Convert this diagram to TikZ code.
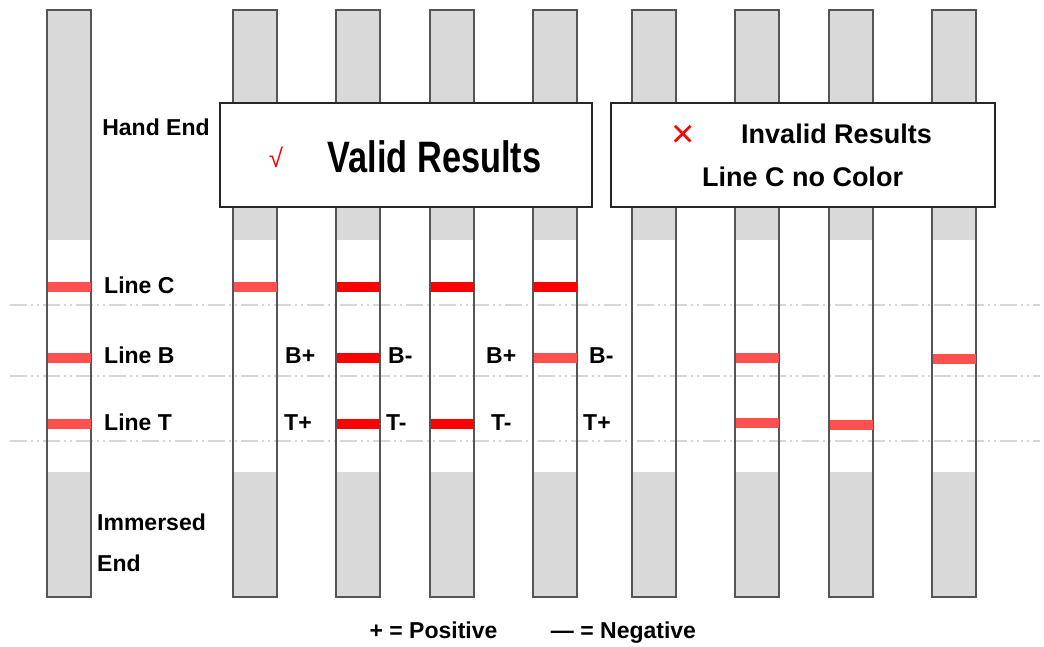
\documentclass[tikz,border=0pt]{standalone}
\usepackage{fontspec}
\setmainfont{Liberation Sans}
\usepackage{graphicx}
\usetikzlibrary{positioning}
\definecolor{stripgray}{HTML}{D9D9D9}
\definecolor{stripedge}{HTML}{555555}
\definecolor{lightred}{HTML}{FF5050}
\definecolor{fullred}{HTML}{FF0000}
\definecolor{guidegray}{HTML}{D6D6D6}
\def\stripwidth{44pt}

\begin{document}
\begin{tikzpicture}[x=1pt,y=-1pt,font=\bfseries]
    \tikzstyle{strip}=[rectangle,draw=stripedge,line width=2.2pt,minimum width=\stripwidth,minimum height=587pt,inner sep=0pt,
        path picture={\fill[stripgray] (path picture bounding box.north west) rectangle ++(44pt,-230pt);
                      \fill[stripgray] (path picture bounding box.south west) rectangle ++(44pt,125pt);}]
    \tikzstyle{band}=[rectangle,minimum width=43pt,minimum height=10pt,inner sep=0pt]
    \tikzstyle{guide}=[guidegray,line width=1.5pt,dash pattern=on 17pt off 4pt on 2pt off 4pt on 2pt off 4pt]
    \tikzstyle{tag}=[font=\fontsize{23}{23}\selectfont\bfseries,inner sep=0pt]
    \tikzstyle{result box}=[rectangle,draw=black!85,line width=1.5pt,fill=white,minimum height=104pt]
    \useasboundingbox (0,0) rectangle (1044,646);

    % guide lines behind the strips
    \foreach \name/\y in {C/305,B/376,T/441} {
        \coordinate (G-\name-a) at (10,\y);
        \coordinate (G-\name-b) at (1040,\y);
        \draw[guide] (G-\name-a) -- (G-\name-b);
    }

    \foreach \name/\x in {0/47,1/233,2/336,3/430,4/533,5/632,6/735,7/829,8/932}
        \node[strip] (S-\name) at (\x+22,303.5) {};

    \foreach \s/\y/\c in {0/287/lightred,0/358/lightred,0/424/lightred,
                          1/287/lightred,
                          2/287/fullred,2/358/fullred,2/424/fullred,
                          3/287/fullred,3/424/fullred,
                          4/287/fullred,4/358/lightred,
                          6/358/lightred,6/423/lightred,
                          7/425/lightred,
                          8/359/lightred}
        \node[band,fill=\c] (band-\s-\y) at (S-\s |- 0,\y) {};

    % labels of the first strip
    \node[tag,anchor=base] (hand) at (156,135) {Hand End};
    \foreach \name/\y in {C/293,B/363,T/430}
        \node[tag,anchor=base west] (line-\name) at (104,\y) {Line \name};
    \node[tag,anchor=west,align=left,font=\fontsize{23}{41}\selectfont\bfseries] (immersed) at (97,543) {Immersed\\End};

    \foreach \lbl/\x/\y in {B+/285/363,B-/388/363,B+/486/363,B-/589/363,T+/284/430,T-/386/430,T-/491/430,T+/583/430}
        \node[tag,anchor=base west] (sign-\x-\y) at (\x,\y) {\lbl};

    % result boxes
    \node[result box,minimum width=372pt] (valid) at (406,155) {};
    \node[result box,minimum width=384pt] (invalid) at (803,155) {};
    \node[text=fullred,font=\fontsize{26}{26}\selectfont\mdseries,inner sep=0pt] (tick) at (276,157) {√};
    \node[anchor=base,inner sep=0pt] (valid-text) at (434.5,172) {\scalebox{0.78}[1]{\fontsize{44}{44}\selectfont\bfseries Valid Results}};
    \node[text=fullred,font=\fontsize{40}{40}\selectfont\mdseries,inner sep=0pt] (cross) at (683,136) {×};
    \node[anchor=base,font=\fontsize{27}{27}\selectfont\bfseries,inner sep=0pt] (invalid-text) at (836.5,143) {Invalid Results};
    \node[anchor=base,font=\fontsize{27}{27}\selectfont\bfseries,inner sep=0pt] (no-color) at (802.5,186) {Line C no Color};

    % legend
    \node[tag,anchor=base] (positive) at (433.5,638) {+ = Positive};
    \node[tag,anchor=base] (negative) at (623.5,638) {— = Negative};
\end{tikzpicture}
\end{document}
